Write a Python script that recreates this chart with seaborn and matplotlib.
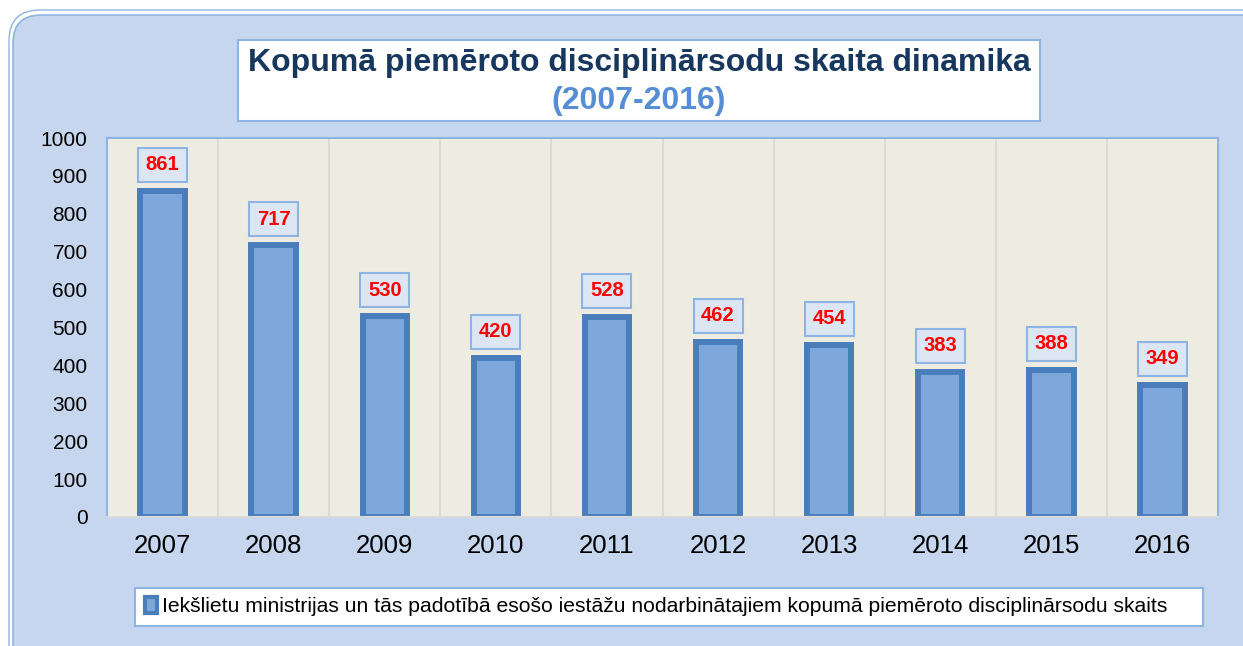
import matplotlib
matplotlib.use("Agg")
import matplotlib.pyplot as plt
from matplotlib.patches import FancyBboxPatch, Rectangle
import seaborn as sns
import pandas as pd

# chart data
years = ["2007", "2008", "2009", "2010", "2011", "2012", "2013", "2014", "2015", "2016"]
counts = [861, 717, 530, 420, 528, 462, 454, 383, 388, 349]
series_name = ("Iekšlietu ministrijas un tās padotībā esošo iestāžu nodarbinātajiem "
               "kopumā piemēroto disciplinārsodu skaits")
title_main = "Kopumā piemēroto disciplinārsodu skaita dinamika"
title_years = "(2007-2016)"
y_ticks = [0, 100, 200, 300, 400, 500, 600, 700, 800, 900, 1000]

df = pd.DataFrame({"year": years, "count": counts})

sns.set_theme(style="white")
plt.rcParams["font.family"] = ["Liberation Sans", "DejaVu Sans"]

bar_fill = "#7EA8DC"
bar_edge = "#4A7EBB"
light_blue = "#8EB4E3"
panel_blue = "#C5D6EE"

fig = plt.figure(figsize=(12.43, 6.46), dpi=100)
fig.patch.set_facecolor("white")

# outer rounded panel (in inches), behind everything
outer = FancyBboxPatch((0.13, -0.3), 12.6, 6.61,
                       boxstyle="round,pad=0,rounding_size=0.28",
                       transform=fig.dpi_scale_trans,
                       facecolor=panel_blue, edgecolor=light_blue, linewidth=1.2, zorder=-5)
fig.patches.append(outer)
outer2 = FancyBboxPatch((0.09, -0.34), 12.68, 6.70,
                        boxstyle="round,pad=0,rounding_size=0.31",
                        transform=fig.dpi_scale_trans,
                        facecolor="none", edgecolor=light_blue, linewidth=1.0, zorder=-5)
fig.patches.append(outer2)

# title box
title_box = Rectangle((2.38, 5.25), 8.02, 0.81, transform=fig.dpi_scale_trans,
                      facecolor="white", edgecolor=light_blue, linewidth=1.5, zorder=-4)
fig.patches.append(title_box)
fig.text(6.39 / 12.43, 1 - 63 / 646, title_main, ha="center", va="center",
         fontsize=23, fontweight="bold", color="#17375E")
fig.text(6.39 / 12.43, 1 - 101 / 646, title_years, ha="center", va="center",
         fontsize=23, fontweight="bold", color="#558ED5")

ax = fig.add_axes([107 / 1243, 1 - 517 / 646, (1218 - 107) / 1243, (517 - 138) / 646])
ax.set_facecolor("#EEEBE1")

sns.barplot(data=df, x="year", y="count", ax=ax, width=0.40,
            color=bar_fill, edgecolor=bar_edge, linewidth=4.3, saturation=1)

for i, v in enumerate(counts):
    ax.annotate(str(v), (i, v), xytext=(0, 26), textcoords="offset pixels",
                ha="center", va="center", fontsize=14.5, fontweight="bold", color="#FF0000",
                bbox=dict(boxstyle="square,pad=0.38", facecolor="#DCE6F2",
                          edgecolor=light_blue, linewidth=1.5))

ax.set_ylim(0, 1000)
ax.set_xlim(-0.5, len(years) - 0.5)
ax.set_yticks(y_ticks)
ax.set_yticklabels([str(t) for t in y_ticks], fontsize=15, color="black")
ax.tick_params(axis="y", length=0, pad=14)
ax.tick_params(axis="x", length=0, pad=12, labelsize=18.5, labelcolor="black")
ax.set_xlabel("")
ax.set_ylabel("")

for b in [i + 0.5 for i in range(len(years) - 1)]:
    ax.axvline(b, color="#D9D9D9", linewidth=1.5, zorder=0)

for side in ["top", "left", "right"]:
    ax.spines[side].set_color(light_blue)
    ax.spines[side].set_linewidth(1.5)
ax.spines["bottom"].set_color("#D9D9D9")
ax.spines["bottom"].set_linewidth(1.5)

leg = fig.legend(handles=[Rectangle((0, 0), 1, 1, facecolor=bar_fill, edgecolor=bar_edge,
                                    linewidth=3)],
                 labels=[series_name], loc="lower left",
                 bbox_to_anchor=(135 / 1243, 1 - 626 / 646, (1203 - 135) / 1243, 41 / 646),
                 mode="expand", fontsize=15.2, frameon=True, fancybox=False,
                 handlelength=0.6, handleheight=0.8, handletextpad=0.25,
                 borderaxespad=0, borderpad=0.45)
leg.get_frame().set_edgecolor(light_blue)
leg.get_frame().set_linewidth(1.5)
leg.get_frame().set_facecolor("white")
leg.get_frame().set_alpha(1)
for t in leg.get_texts():
    t.set_color("black")

fig.savefig("out.png", dpi=100)
